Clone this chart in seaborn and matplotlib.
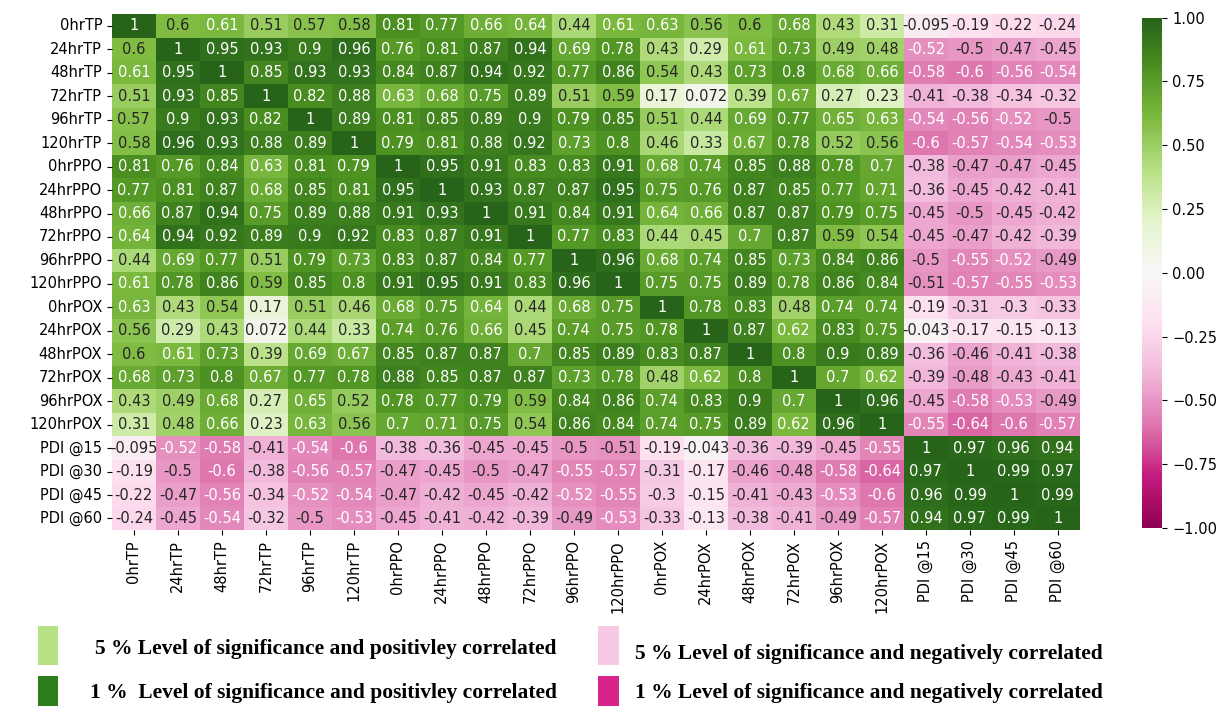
import numpy as np
import pandas as pd
import seaborn as sns
import matplotlib.pyplot as plt
from matplotlib.patches import Rectangle

# Variable names (rows / columns of the correlation matrix)
labels = ['0hrTP', '24hrTP', '48hrTP', '72hrTP', '96hrTP', '120hrTP',
          '0hrPPO', '24hrPPO', '48hrPPO', '72hrPPO', '96hrPPO', '120hrPPO',
          '0hrPOX', '24hrPOX', '48hrPOX', '72hrPOX', '96hrPOX', '120hrPOX',
          'PDI @15', 'PDI @30', 'PDI @45', 'PDI @60']

# Correlation values, one row per variable
corr_values = [
    [1, .6, .61, .51, .57, .58, .81, .77, .66, .64, .44, .61, .63, .56, .6, .68, .43, .31, -.095, -.19, -.22, -.24],
    [.6, 1, .95, .93, .9, .96, .76, .81, .87, .94, .69, .78, .43, .29, .61, .73, .49, .48, -.52, -.5, -.47, -.45],
    [.61, .95, 1, .85, .93, .93, .84, .87, .94, .92, .77, .86, .54, .43, .73, .8, .68, .66, -.58, -.6, -.56, -.54],
    [.51, .93, .85, 1, .82, .88, .63, .68, .75, .89, .51, .59, .17, .072, .39, .67, .27, .23, -.41, -.38, -.34, -.32],
    [.57, .9, .93, .82, 1, .89, .81, .85, .89, .9, .79, .85, .51, .44, .69, .77, .65, .63, -.54, -.56, -.52, -.5],
    [.58, .96, .93, .88, .89, 1, .79, .81, .88, .92, .73, .8, .46, .33, .67, .78, .52, .56, -.6, -.57, -.54, -.53],
    [.81, .76, .84, .63, .81, .79, 1, .95, .91, .83, .83, .91, .68, .74, .85, .88, .78, .7, -.38, -.47, -.47, -.45],
    [.77, .81, .87, .68, .85, .81, .95, 1, .93, .87, .87, .95, .75, .76, .87, .85, .77, .71, -.36, -.45, -.42, -.41],
    [.66, .87, .94, .75, .89, .88, .91, .93, 1, .91, .84, .91, .64, .66, .87, .87, .79, .75, -.45, -.5, -.45, -.42],
    [.64, .94, .92, .89, .9, .92, .83, .87, .91, 1, .77, .83, .44, .45, .7, .87, .59, .54, -.45, -.47, -.42, -.39],
    [.44, .69, .77, .51, .79, .73, .83, .87, .84, .77, 1, .96, .68, .74, .85, .73, .84, .86, -.5, -.55, -.52, -.49],
    [.61, .78, .86, .59, .85, .8, .91, .95, .91, .83, .96, 1, .75, .75, .89, .78, .86, .84, -.51, -.57, -.55, -.53],
    [.63, .43, .54, .17, .51, .46, .68, .75, .64, .44, .68, .75, 1, .78, .83, .48, .74, .74, -.19, -.31, -.3, -.33],
    [.56, .29, .43, .072, .44, .33, .74, .76, .66, .45, .74, .75, .78, 1, .87, .62, .83, .75, -.043, -.17, -.15, -.13],
    [.6, .61, .73, .39, .69, .67, .85, .87, .87, .7, .85, .89, .83, .87, 1, .8, .9, .89, -.36, -.46, -.41, -.38],
    [.68, .73, .8, .67, .77, .78, .88, .85, .87, .87, .73, .78, .48, .62, .8, 1, .7, .62, -.39, -.48, -.43, -.41],
    [.43, .49, .68, .27, .65, .52, .78, .77, .79, .59, .84, .86, .74, .83, .9, .7, 1, .96, -.45, -.58, -.53, -.49],
    [.31, .48, .66, .23, .63, .56, .7, .71, .75, .54, .86, .84, .74, .75, .89, .62, .96, 1, -.55, -.64, -.6, -.57],
    [-.095, -.52, -.58, -.41, -.54, -.6, -.38, -.36, -.45, -.45, -.5, -.51, -.19, -.043, -.36, -.39, -.45, -.55, 1, .97, .96, .94],
    [-.19, -.5, -.6, -.38, -.56, -.57, -.47, -.45, -.5, -.47, -.55, -.57, -.31, -.17, -.46, -.48, -.58, -.64, .97, 1, .99, .97],
    [-.22, -.47, -.56, -.34, -.52, -.54, -.47, -.42, -.45, -.42, -.52, -.55, -.3, -.15, -.41, -.43, -.53, -.6, .96, .99, 1, .99],
    [-.24, -.45, -.54, -.32, -.5, -.53, -.45, -.41, -.42, -.39, -.49, -.53, -.33, -.13, -.38, -.41, -.49, -.57, .94, .97, .99, 1],
]

# Legend entries below the chart
legend_texts = ['5 % Level of significance and positivley correlated',
                '1 %  Level of significance and positivley correlated',
                '5 % Level of significance and negatively correlated',
                '1 % Level of significance and negatively correlated']
legend_colors = ['#b8e186', '#2e7d1c', '#f6c9e4', '#d6248a']

df = pd.DataFrame(corr_values, index=labels, columns=labels)

fig = plt.figure(figsize=(12.16, 7.06), dpi=100)
ax = fig.add_axes([0.092, 0.249, 0.796, 0.731])
cax = fig.add_axes([0.939, 0.252, 0.017, 0.723])

sns.heatmap(df, ax=ax, cbar_ax=cax, cmap='PiYG', vmin=-1, vmax=1,
            annot=True, annot_kws={'fontsize': 10.5})

ax.tick_params(axis='both', labelsize=10.5)
ax.set_yticklabels(labels, rotation=0)
ax.set_xticklabels(labels, rotation=90)
cax.tick_params(labelsize=10.5)
cax.set_yticks(np.arange(-1, 1.01, 0.25))
cax.set_yticklabels([f'{v:.2f}'.replace('-', '\u2212') for v in np.arange(-1, 1.01, 0.25)])

# Legend boxes and texts (figure coordinates)
boxes = [(0.031, 0.058, 0.055), (0.031, 0.0, 0.043), (0.492, 0.058, 0.055), (0.492, 0.0, 0.043)]
text_pos = [(0.078, 0.081), (0.074, 0.018), (0.522, 0.073), (0.522, 0.018)]
for (bx, by, bh), color, (tx, ty), txt in zip(boxes, legend_colors, text_pos, legend_texts):
    fig.add_artist(Rectangle((bx, by), 0.017, bh, transform=fig.transFigure,
                             facecolor=color, edgecolor='none'))
    fig.text(tx, ty, txt, fontsize=15.5, fontweight='bold', family='Liberation Serif',
             va='center', ha='left')

plt.savefig('out.png', dpi=100)
